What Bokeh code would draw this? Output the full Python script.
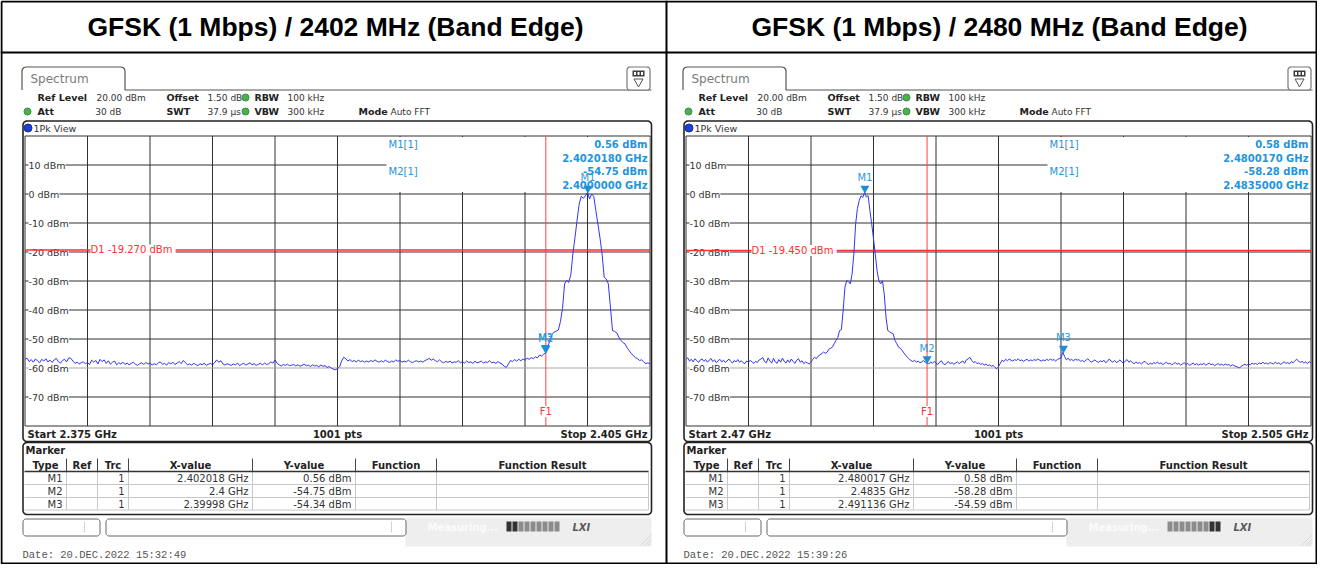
import math
from bokeh.plotting import figure
from bokeh.models import Range1d
from bokeh.embed import file_html
from bokeh.resources import INLINE
from bokeh.core.properties import value

# ---------------- data ----------------
TITLES = ["GFSK (1 Mbps) / 2402 MHz (Band Edge)", "GFSK (1 Mbps) / 2480 MHz (Band Edge)"]
START_GHZ = [2.375, 2.47]
STOP_GHZ = [2.405, 2.505]
REF_LEVEL = 20
DB_PER_DIV = 10
D1_DBM = [-19.270, -19.450]
F1_GHZ = [2.400, 2.4835]
Y_TICKS = [10, 0, -10, -20, -30, -40, -50, -60, -70]
MARKER_NAMES = ["M1", "M2", "M3"]
MARKER_FREQ = [[2.402018, 2.4, 2.39998], [2.480017, 2.4835, 2.491136]]
MARKER_LEVEL = [[0.56, -54.75, -54.34], [0.58, -58.28, -54.59]]
MARKER_XTEXT = [["2.402018 GHz", "2.4 GHz", "2.39998 GHz"],
                ["2.480017 GHz", "2.4835 GHz", "2.491136 GHz"]]
TABLE_HEADERS = ["Type", "Ref", "Trc", "X-value", "Y-value", "Function", "Function Result"]
DATES = ["Date: 20.DEC.2022  15:32:49", "Date: 20.DEC.2022  15:39:26"]
HEADER_ROW1 = [("Ref Level", "20.00 dBm"), ("Offset", "1.50 dB"), ("RBW", "100 kHz")]
HEADER_ROW2 = [("Att", "30 dB"), ("SWT", "37.9 µs"), ("VBW", "300 kHz"), ("Mode", "Auto FFT")]
SWEEP_POINTS = 1001

# trace levels (dBm), 1 point per 0.1 MHz across the sweep
TRACE_L = [
    -57.0, -56.6, -57.8, -57.1, -58.0, -56.9, -57.5, -58.2, -57.0, -57.6,
    -56.8, -57.9, -57.3, -58.1, -57.2, -56.7, -57.8, -58.3, -57.4, -57.0,
    -57.9, -56.5, -56.7, -57.6, -58.4, -58.0, -58.6, -58.2, -57.9, -58.5,
    -58.1, -58.8, -57.3, -58.0, -57.4, -58.6, -57.0, -57.8, -57.2, -58.4,
    -57.5, -58.7, -58.0, -57.6, -58.9, -58.2, -58.6, -58.0, -58.8, -58.3,
    -58.9, -58.4, -58.0, -58.7, -59.1, -58.5, -58.2, -58.8, -58.1, -58.6,
    -58.3, -59.0, -58.5, -58.9, -58.2, -57.9, -58.7, -58.4, -59.0, -58.1,
    -58.6, -58.0, -58.8, -58.3, -57.8, -58.5, -57.4, -58.2, -58.9, -58.6,
    -59.0, -58.4, -58.8, -59.2, -58.5, -58.9, -58.3, -59.1, -58.7, -58.4,
    -58.9, -58.2, -57.2, -58.0, -57.5, -58.6, -59.0, -58.5, -58.8, -59.1,
    -58.6, -58.9, -58.3, -59.2, -58.7, -58.4, -59.0, -58.6, -58.2, -58.9,
    -58.5, -59.1, -58.7, -58.4, -58.9, -58.3, -58.8, -58.5, -57.9, -58.3,
    -57.2, -58.4, -58.9, -59.3, -58.8, -59.1, -58.7, -59.2, -59.0, -58.8,
    -59.3, -58.9, -59.4, -59.1, -58.7, -59.2, -59.0, -59.5, -58.9, -59.3,
    -59.1, -59.6, -59.0, -59.4, -59.2, -59.8, -59.5, -60.0, -60.4, -60.6,
    -60.2, -59.6, -57.5, -56.3, -56.8, -57.6, -57.1, -57.8, -57.4, -57.9,
    -57.3, -57.8, -57.5, -58.0, -57.6, -57.9, -57.4, -57.8, -57.2, -57.7,
    -58.0, -57.5, -57.9, -57.3, -57.8, -58.1, -57.6, -57.9, -57.2, -57.7,
    -57.4, -58.0, -57.6, -57.9, -57.3, -57.8, -58.2, -57.7, -57.5, -57.9,
    -57.6, -58.0, -57.4, -57.1, -56.7, -57.3, -56.9, -57.5, -57.8, -57.2,
    -57.9, -58.2, -57.7, -58.1, -57.6, -58.3, -57.9, -58.0, -57.5, -58.2,
    -57.8, -58.3, -57.6, -58.1, -57.9, -58.4, -57.7, -58.2, -58.0, -57.6,
    -58.3, -57.9, -58.1, -57.5, -58.2, -58.0, -58.4, -57.8, -58.3, -58.6,
    -59.4, -59.8, -58.7, -57.4, -57.8, -57.1, -57.6, -57.0, -57.5, -56.9,
    -57.3, -56.6, -57.0, -56.4, -56.8, -56.2, -56.5, -55.5, -55.9, -55.2,
    -54.75, -52.4, -50.5, -48.4, -47.6, -47.3, -46.9, -44.0, -39.5, -31.0,
    -29.8, -30.5, -27.8, -20.5, -15.0, -9.0, -3.5, -0.8, -1.5, -0.6,
    0.56, -1.7, 0.0, -0.8, -5.7, -10.3, -15.2, -20.7, -28.7, -29.3,
    -31.0, -39.0, -47.1, -47.4, -47.8, -49.3, -50.5, -51.2, -51.7, -53.0,
    -54.0, -55.0, -55.7, -56.4, -56.8, -57.4, -57.2, -57.9, -58.5, -58.2,
    -58.6,
]
TRACE_R = [
    -57.0, -56.5, -57.6, -57.0, -57.9, -56.8, -57.4, -58.1, -57.2, -56.9,
    -57.7, -57.1, -58.0, -57.3, -56.7, -57.8, -57.2, -58.2, -57.5, -57.0,
    -57.9, -57.3, -58.1, -57.6, -56.9, -57.7, -58.3, -57.4, -57.9, -57.1,
    -58.0, -57.5, -58.2, -58.5, -57.6, -58.0, -57.3, -57.9, -58.4, -57.7,
    -58.1, -57.2, -56.9, -56.4, -57.8, -58.2, -56.5, -57.6, -58.3, -56.7,
    -57.9, -58.4, -57.1, -58.0, -56.6, -57.7, -58.3, -57.2, -58.1, -56.9,
    -57.8, -58.4, -57.3, -56.8, -58.0, -57.5, -58.5, -57.9, -58.3, -58.6,
    -58.0, -57.0, -56.3, -56.8, -55.9, -55.5, -55.0, -54.5, -54.9, -54.6,
    -53.5, -53.2, -52.8, -51.6, -50.5, -49.5, -47.1, -46.8, -40.2, -32.1,
    -29.9, -30.2, -31.0, -27.6, -20.7, -10.3, -5.0, -2.3, -0.6, -1.2,
    0.58, -1.0, -0.6, -5.7, -10.3, -15.5, -20.7, -26.5, -29.9, -31.0,
    -29.9, -34.4, -42.5, -47.1, -47.5, -47.9, -48.2, -50.5, -51.5, -52.8,
    -53.2, -53.9, -54.8, -55.6, -56.3, -56.9, -57.4, -57.8, -57.3, -58.0,
    -57.6, -58.2, -57.9, -57.4, -58.1, -58.28, -58.6, -57.9, -58.4, -57.7,
    -58.3, -58.8, -58.0, -57.5, -58.5, -58.9, -58.2, -57.8, -58.6, -58.1,
    -58.7, -58.3, -57.9, -58.5, -58.0, -57.6, -58.4, -57.2, -56.9, -56.3,
    -57.4, -58.1, -57.8, -58.5, -58.2, -58.8, -58.4, -59.0, -58.6, -59.2,
    -58.9, -59.4, -59.1, -59.8, -60.3, -59.5, -58.4, -57.3, -57.8, -57.0,
    -57.5, -56.9, -57.3, -57.6, -57.1, -57.4, -56.8, -57.5, -57.2, -57.7,
    -57.3, -57.0, -57.6, -57.2, -57.5, -57.1, -57.4, -56.9, -57.3, -57.6,
    -57.2, -57.5, -57.0, -57.4, -56.9, -57.3, -57.1, -57.6, -57.0, -56.8,
    -56.5, -54.59, -56.0, -57.2, -56.6, -57.4, -57.0, -57.6, -56.9, -57.3,
    -57.1, -57.7, -57.4, -57.9, -57.3, -56.8, -57.5, -58.0, -57.6, -57.2,
    -57.8, -58.1, -57.5, -57.9, -57.3, -58.2, -57.7, -56.9, -57.6, -58.0,
    -57.4, -58.1, -57.8, -57.2, -57.9, -58.3, -57.6, -57.1, -58.0, -57.5,
    -58.2, -58.5, -57.9, -58.4, -58.1, -58.6, -58.0, -57.7, -58.4, -58.8,
    -58.3, -58.7, -58.1, -58.5, -57.9, -58.6, -58.2, -58.9, -58.4, -58.0,
    -58.6, -58.3, -58.9, -58.5, -58.1, -58.7, -58.4, -59.0, -58.6, -58.2,
    -58.8, -58.4, -59.1, -58.7, -58.3, -58.9, -58.5, -59.0, -58.6, -58.8,
    -58.4, -59.0, -58.7, -58.3, -58.9, -58.6, -59.2, -58.8, -58.5, -59.0,
    -58.7, -59.1, -58.6, -59.0, -58.8, -59.3, -58.9, -59.2, -59.5, -59.7,
    -59.9, -59.4, -59.0, -58.7, -59.1, -58.6, -58.9, -58.3, -58.7, -58.4,
    -58.8, -58.2, -58.6, -58.0, -58.5, -58.3, -58.7, -58.1, -58.4, -58.6,
    -58.0, -58.5, -58.2, -58.7, -58.3, -57.9, -58.4, -58.1, -58.6, -57.8,
    -58.2, -57.5, -57.0, -57.6, -58.1, -57.7, -58.3, -57.9, -58.5, -57.8,
    -58.3,
]
TRACES = [TRACE_L, TRACE_R]

# ---------------- canvas (1 unit = 1 reference pixel) ----------------
X0, X1, Y0, Y1 = 0, 1317, 0, 564
p = figure(width=X1 - X0, height=Y1 - Y0, x_range=Range1d(X0, X1), y_range=Range1d(Y1, Y0),
           output_backend="svg", toolbar_location=None, min_border=0,
           x_axis_location=None, y_axis_location=None)
p.grid.visible = False
p.outline_line_color = None
p.background_fill_color = "white"
p.border_fill_color = "white"

SANS = "DejaVu Sans"
INFO_BLUE = "#2294dc"


def T(x, y, s, size=10, color="#222222", bold=False, italic=False, align="left",
      font=SANS, baseline="middle", bg=None, xr="default", yr="default", xo=0, yo=0):
    style = "bold italic" if (bold and italic) else "bold" if bold else "italic" if italic else "normal"
    kw = dict(x=[x], y=[y], text=[s], text_font=value(font), text_font_size=f"{size}px",
              text_color=color, text_align=align, text_baseline=baseline, text_font_style=style,
              x_offset=xo, y_offset=yo, x_range_name=xr, y_range_name=yr)
    if bg:
        kw["background_fill_color"] = bg
    p.text(**kw)


def rrect(x0, y0, x1, y1, r, color="#333333", width=1.0, fill=None):
    xs, ys = [], []
    for cx, cy, a0 in [(x1 - r, y0 + r, -90), (x1 - r, y1 - r, 0), (x0 + r, y1 - r, 90), (x0 + r, y0 + r, 180)]:
        for k in range(7):
            a = math.radians(a0 + k * 15)
            xs.append(cx + r * math.cos(a))
            ys.append(cy + r * math.sin(a))
    xs.append(xs[0]); ys.append(ys[0])
    if fill:
        p.patch(xs, ys, fill_color=fill, line_color=color, line_width=width)
    else:
        p.line(xs, ys, line_color=color, line_width=width)


# ---- outer table ----
p.line([1, 1316, 1316, 1, 1], [1, 1, 563, 563, 1], line_color="black", line_width=2)
p.line([0, 1317], [52, 52], line_color="black", line_width=2)
p.line([666, 666], [0, 564], line_color="black", line_width=2)
for k, cx in enumerate([335, 999]):
    T(cx, 26, TITLES[k], size=26.5, color="black", bold=True, align="center", font="Liberation Sans")


def panel(k, dx):
    fs, fe = START_GHZ[k], STOP_GHZ[k]
    span = fe - fs
    gx0, gx1 = 24.5 + dx, 649.5 + dx
    gy0, gy1 = 135.5, 425.5
    top, bot = REF_LEVEL, REF_LEVEL - 10 * DB_PER_DIV
    xn, yn = f"freq{k}", f"dbm{k}"
    p.extra_x_ranges[xn] = Range1d(fs + (X0 - gx0) / (gx1 - gx0) * span, fs + (X1 - gx0) / (gx1 - gx0) * span)
    p.extra_y_ranges[yn] = Range1d(top - (Y1 - gy0) / (gy1 - gy0) * (top - bot), top + (gy0 - Y0) / (gy1 - gy0) * (top - bot))
    R = dict(x_range_name=xn, y_range_name=yn)

    # --- tab / header ---
    tx = [21.5 + dx, 21.5 + dx] + [21.5 + dx + 4 - 4 * math.cos(math.radians(a)) for a in (30, 60)] + \
         [25.5 + dx, 120.5 + dx] + [120.5 + dx + 4 * math.sin(math.radians(a)) for a in (30, 60)] + \
         [124.5 + dx, 124.5 + dx, 651 + dx]
    ty = [89.5, 70.5] + [70.5 - 4 * math.sin(math.radians(a)) for a in (30, 60)] + \
         [66.5, 66.5] + [66.5 + 4 - 4 * math.cos(math.radians(a)) for a in (30, 60)] + \
         [70.5, 89.5, 89.5]
    p.line(tx, ty, line_color="#555555", line_width=1.2)
    T(30 + dx, 78, "Spectrum", size=12, color="#7a7a7a")
    # menu icon
    rrect(626.5 + dx, 66.5, 649.5 + dx, 89.5, 3, color="#777777", width=1.2, fill="white")
    p.quad(left=[632 + dx], right=[644 + dx], top=[70], bottom=[76], fill_color="#3c3c3c", line_color=None)
    p.quad(left=[633.5 + dx + 3.5 * i for i in range(3)], right=[635.5 + dx + 3.5 * i for i in range(3)],
           top=[71.5] * 3, bottom=[74.5] * 3, fill_color="white", line_color=None)
    p.patch([633.5 + dx, 642.5 + dx, 638 + dx], [78.5, 78.5, 86.5], fill_color="white", line_color="#555555", line_width=1)

    # settings rows
    LB, VS = 9.5, 9
    T(37 + dx, 97, HEADER_ROW1[0][0], size=LB, bold=True); T(96 + dx, 97, HEADER_ROW1[0][1], size=VS, color="#333333")
    T(166 + dx, 97, HEADER_ROW1[1][0], size=LB, bold=True); T(207 + dx, 97, HEADER_ROW1[1][1], size=VS, color="#333333")
    T(254 + dx, 97, HEADER_ROW1[2][0], size=LB, bold=True); T(287 + dx, 97, HEADER_ROW1[2][1], size=VS, color="#333333")
    T(37 + dx, 111, HEADER_ROW2[0][0], size=LB, bold=True); T(121 + dx, 111, HEADER_ROW2[0][1], size=VS, color="#333333", align="right")
    T(166 + dx, 111, HEADER_ROW2[1][0], size=LB, bold=True); T(207 + dx, 111, HEADER_ROW2[1][1], size=VS, color="#333333")
    T(254 + dx, 111, HEADER_ROW2[2][0], size=LB, bold=True); T(287 + dx, 111, HEADER_ROW2[2][1], size=VS, color="#333333")
    T(358 + dx, 111, HEADER_ROW2[3][0], size=LB, bold=True); T(390 + dx, 111, HEADER_ROW2[3][1], size=VS, color="#333333")
    p.scatter([245 + dx, 27 + dx, 245 + dx], [97, 111, 111], size=7, fill_color="#4caf50", line_color="#3d8f40")

    # diagram frame
    rrect(22.5 + dx, 120.5, 651 + dx, 441, 4, color="#222222", width=1.6)
    p.scatter([27.5 + dx], [127.5], size=8, fill_color="#1d3fd8", line_color="#142d99")
    T(33 + dx, 127.5, "1Pk View", size=9.5, color="#333333")

    # grid
    fr = [fs + i * span / 10 for i in range(11)]
    lv = [top - i * DB_PER_DIV for i in range(11)]
    p.segment(x0=fr, y0=[bot] * 11, x1=fr, y1=[top] * 11, line_color="#303030", line_width=1, **R)
    cols = ["#303030"] * 11
    cols[lv.index(-60)] = "#a8a8a8"
    p.segment(x0=[fs] * 11, y0=lv, x1=[fe] * 11, y1=lv, line_color=cols, line_width=1, **R)
    # marker info box occludes grid
    p.quad(left=[386 + dx], right=[649 + dx], top=[136.5], bottom=[191.5], fill_color="white", line_color=None)

    # y labels
    p.text(x=[28 + dx] * len(Y_TICKS), y=Y_TICKS, text=[f"{v} dBm" for v in Y_TICKS], text_font=value(SANS),
           text_font_size="9.5px", text_color="#333333", text_baseline="middle",
           background_fill_color="white", y_range_name=yn)

    # D1 line and label
    p.segment(x0=[fs], y0=[D1_DBM[k]], x1=[fe], y1=[D1_DBM[k]], line_color="#ff3030", line_width=1.5, **R)
    p.text(x=[90 + dx], y=[D1_DBM[k]], text=[f"D1  {D1_DBM[k]:.3f} dBm"], text_font=value(SANS),
           text_font_size="10px", text_color="#ff3030", text_baseline="middle",
           background_fill_color="white", y_range_name=yn)
    # F1 line and label
    p.segment(x0=[F1_GHZ[k]], y0=[bot], x1=[F1_GHZ[k]], y1=[top], line_color="#ff4040", line_width=1, **R)
    p.text(x=[F1_GHZ[k]], y=[-75], text=["F1"], text_font=value(SANS), text_font_size="10px",
           text_color="#ff3030", text_align="center", text_baseline="middle",
           background_fill_color="white", **R)

    # trace
    tr = TRACES[k]
    n = len(tr)
    freqs = [fs + i * span / (n - 1) for i in range(n)]
    p.line(freqs, tr, line_color="#3434f4", line_width=1, **R)

    # markers
    mf, ml = MARKER_FREQ[k], MARKER_LEVEL[k]
    p.scatter(mf, [v + 1.4 for v in ml], marker="inverted_triangle", size=9,
              fill_color="#1b8fd6", line_color=None, **R)
    p.text(mf, ml, text=MARKER_NAMES, text_font=value(SANS), text_font_size="10px",
           text_color="#2a9be0", text_align="center", text_baseline="bottom", y_offset=-9, **R)

    # marker info
    T(388 + dx, 144, "M1[1]", size=10, color=INFO_BLUE)
    T(388 + dx, 171, "M2[1]", size=10, color=INFO_BLUE)
    T(647 + dx, 144, f"{ml[0]:.2f} dBm", size=10, color=INFO_BLUE, bold=True, align="right")
    T(647 + dx, 157.5, f"{mf[0]:.7f} GHz", size=10, color=INFO_BLUE, bold=True, align="right")
    T(647 + dx, 171, f"{ml[1]:.2f} dBm", size=10, color=INFO_BLUE, bold=True, align="right")
    T(647 + dx, 185, f"{mf[1]:.7f} GHz", size=10, color=INFO_BLUE, bold=True, align="right")

    # start / stop row
    T(27 + dx, 433.5, f"Start {fs:g} GHz", size=10, bold=True)
    T(337 + dx, 433.5, f"{SWEEP_POINTS} pts", size=10, bold=True, align="center")
    T(647 + dx, 433.5, f"Stop {fe:g} GHz", size=10, bold=True, align="right")

    # marker table
    rrect(22.5 + dx, 442, 651 + dx, 514, 4, color="#222222", width=1.6)
    T(25 + dx, 449.5, "Marker", size=10, bold=True)
    cb = [24, 66, 97, 128, 252, 355, 436, 648]
    p.segment(x0=[c + dx for c in cb[1:-1]], y0=[458] * 6, x1=[c + dx for c in cb[1:-1]], y1=[471] * 6,
              line_color="#444444", line_width=1)
    p.segment(x0=[c + dx for c in cb[1:]], y0=[471] * 7, x1=[c + dx for c in cb[1:]], y1=[509.5] * 7,
              line_color="#c8c8c8", line_width=1)
    p.segment(x0=[cb[0] + dx], y0=[471], x1=[cb[-1] + dx], y1=[471], line_color="#333333", line_width=1.5)
    p.segment(x0=[cb[0] + dx] * 3, y0=[484, 497, 509.5], x1=[cb[-1] + dx] * 3, y1=[484, 497, 509.5],
              line_color="#c8c8c8", line_width=1)
    for j, h in enumerate(TABLE_HEADERS):
        T((cb[j] + cb[j + 1]) / 2 + dx, 464.5, h, size=10, bold=True, align="center")
    for r in range(3):
        yy = 477.5 + r * 13
        T(cb[1] - 4 + dx, yy, MARKER_NAMES[r], size=10, color="#333333", align="right")
        T(cb[3] - 4 + dx, yy, "1", size=10, color="#333333", align="right")
        T(cb[4] - 4 + dx, yy, MARKER_XTEXT[k][r], size=10, color="#333333", align="right")
        T(cb[5] - 4 + dx, yy, f"{ml[r]:.2f} dBm", size=10, color="#333333", align="right")

    # status bar
    p.quad(left=[405 + dx], right=[651 + dx], top=[517], bottom=[546], fill_color="#eeeeee", line_color=None)
    rrect(22.5 + dx, 518.5, 99.5 + dx, 535.5, 3, color="#666666", width=1, fill="white")
    rrect(105.5 + dx, 518.5, 405.5 + dx, 535.5, 3, color="#666666", width=1, fill="white")
    p.segment(x0=[84 + dx, 391 + dx], y0=[521, 521], x1=[84 + dx, 391 + dx], y1=[532, 532],
              line_color="#d0d0d0", line_width=1)
    T(427 + dx, 526.5, "Measuring...", size=10, color="#fbfbfb", bold=True)
    dark = [0, 1] if k == 0 else [7, 8]
    segl = [506 + dx + 6 * i for i in range(9)]
    p.quad(left=segl, right=[s + 5 for s in segl], top=[521] * 9, bottom=[531] * 9,
           fill_color=["#333333" if i in dark else "#8c8c8c" for i in range(9)], line_color=None)
    T(572 + dx, 526.5, "LXI", size=10, color="#5a5a5a", bold=True, italic=True)
    p.multi_line([[640 + dx, 651 + dx], [644 + dx, 651 + dx], [647 + dx, 651 + dx]],
                 [[545, 534], [545, 538], [545, 541]], line_color="#d8d8d8", line_width=1)

    # date
    T(22 + dx, 554.5, DATES[k], size=10.5, color="#555555", font="Liberation Mono")


panel(0, 0)
panel(1, 661)

open("out.html", "w").write(file_html(p, INLINE))
